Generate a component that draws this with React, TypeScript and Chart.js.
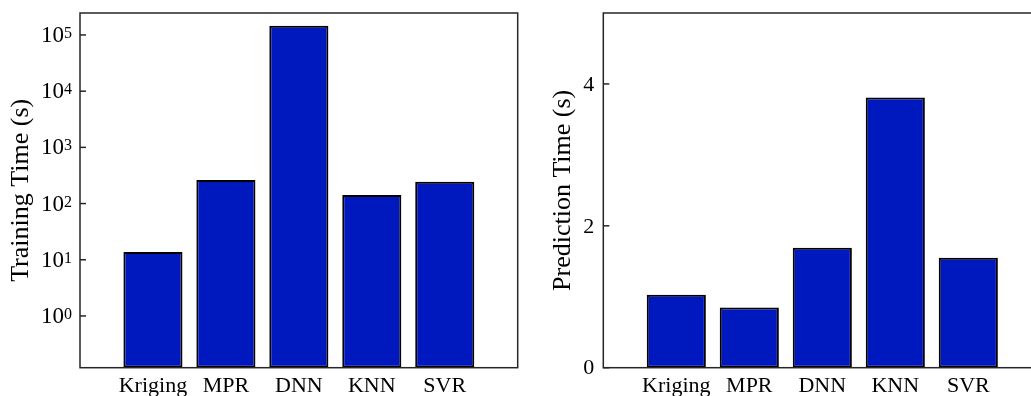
import React, { useEffect, useRef } from 'react';
import { Chart, registerables } from 'chart.js';

Chart.register(...registerables);

const categories = ['Kriging', 'MPR', 'DNN', 'KNN', 'SVR'];
const trainingTime = [13.8, 263, 146000, 142, 245];
const predictionTime = [1.03, 0.85, 1.69, 3.81, 1.55];
const trainingTicks = [1, 10, 100, 1000, 10000, 100000];
const trainingTickExp = ['0', '1', '2', '3', '4', '5'];
const predictionTicks = [0, 2, 4];
const predictionTickLabels = ['0', '2', '4'];

const SERIF = '"Liberation Serif", "Times New Roman", serif';
const BAR_COLOR = '#0019BE';

const framePlugin = {
  id: 'frame',
  afterDraw(chart: any, _args: any, opts: any) {
    const { ctx, chartArea: a } = chart;
    const ys = chart.scales.y;
    ctx.save();
    ctx.strokeStyle = '#262626';
    ctx.lineWidth = 1.5;
    ctx.strokeRect(a.left, a.top, a.right - a.left, a.bottom - a.top);
    ctx.fillStyle = '#000';
    (opts.values as number[]).forEach((v: number, i: number) => {
      const p = ys.getPixelForValue(v);
      ctx.beginPath();
      ctx.moveTo(a.left, p);
      ctx.lineTo(a.left + 6, p);
      ctx.stroke();
      if (opts.log) {
        ctx.font = `23px ${SERIF}`;
        ctx.textAlign = 'right';
        ctx.textBaseline = 'middle';
        ctx.fillText('10', a.left - 16, p + 1);
        ctx.font = `16px ${SERIF}`;
        ctx.textAlign = 'left';
        ctx.textBaseline = 'alphabetic';
        ctx.fillText(opts.labels[i], a.left - 16, p + 3);
      } else {
        ctx.font = `22px ${SERIF}`;
        ctx.textAlign = 'right';
        ctx.textBaseline = 'middle';
        ctx.fillText(opts.labels[i], a.left - 9, p + 1);
      }
    });
    ctx.restore();
  },
};

function makeConfig(
  values: number[],
  log: boolean,
  title: string,
  yWidth: number,
  rightPad: number,
  titlePad: number
): any {
  const labels = ['', ...categories, ''];
  const data = [null, ...values, null];
  const tickValues = log ? trainingTicks : predictionTicks;
  const common = {
    grid: { display: false, drawTicks: false },
    border: { display: false },
    ticks: { display: false },
    title: {
      display: true,
      text: title,
      color: '#000',
      font: { family: SERIF, size: 26 },
      padding: { top: titlePad, bottom: 0 },
    },
    afterFit: (s: any) => {
      s.width = yWidth;
    },
    afterBuildTicks: (s: any) => {
      s.ticks = tickValues.map((v) => ({ value: v }));
    },
  };
  return {
    type: 'bar',
    data: {
      labels,
      datasets: [
        {
          data,
          backgroundColor: BAR_COLOR,
          borderColor: '#000',
          borderWidth: 2,
          borderSkipped: false,
          categoryPercentage: 1,
          barPercentage: 0.81,
        },
      ],
    },
    options: {
      animation: false,
      responsive: false,
      devicePixelRatio: 1,
      layout: { padding: { left: 0, top: 13, right: rightPad, bottom: 0 } },
      plugins: {
        legend: { display: false },
        tooltip: { enabled: false },
        frame: {
          values: tickValues,
          labels: log ? trainingTickExp : predictionTickLabels,
          log,
        },
      },
      scales: {
        x: {
          type: 'category',
          offset: false,
          grid: { display: false, drawTicks: false },
          border: { display: false },
          ticks: {
            autoSkip: false,
            maxRotation: 0,
            minRotation: 0,
            padding: 5,
            color: '#000',
            font: { family: SERIF, size: 22 },
          },
          afterFit: (s: any) => {
            s.height = 28.3;
          },
        },
        y: log
          ? { type: 'logarithmic', min: 0.12, max: 246000, ...common }
          : { type: 'linear', min: 0, max: 5, ...common },
      },
    },
    plugins: [framePlugin],
  };
}

export default function App() {
  const leftRef = useRef<HTMLCanvasElement>(null);
  const rightRef = useRef<HTMLCanvasElement>(null);

  useEffect(() => {
    const c1 = new Chart(
      leftRef.current as HTMLCanvasElement,
      makeConfig(trainingTime, true, 'Training Time (s)', 80, 22.3, 6)
    );
    const c2 = new Chart(
      rightRef.current as HTMLCanvasElement,
      makeConfig(predictionTime, false, 'Prediction Time (s)', 63.3, 38.7, 8)
    );
    return () => {
      c1.destroy();
      c2.destroy();
    };
  }, []);

  return (
    <div
      style={{
        position: 'fixed',
        left: 0,
        top: 0,
        width: 1031,
        height: 396,
        overflow: 'hidden',
        background: '#fff',
      }}
    >
      <canvas
        ref={leftRef}
        width={540}
        height={396}
        style={{ position: 'absolute', left: 0, top: 0, width: 540, height: 396 }}
      />
      <canvas
        ref={rightRef}
        width={540}
        height={396}
        style={{ position: 'absolute', left: 540, top: 0, width: 540, height: 396 }}
      />
    </div>
  );
}
